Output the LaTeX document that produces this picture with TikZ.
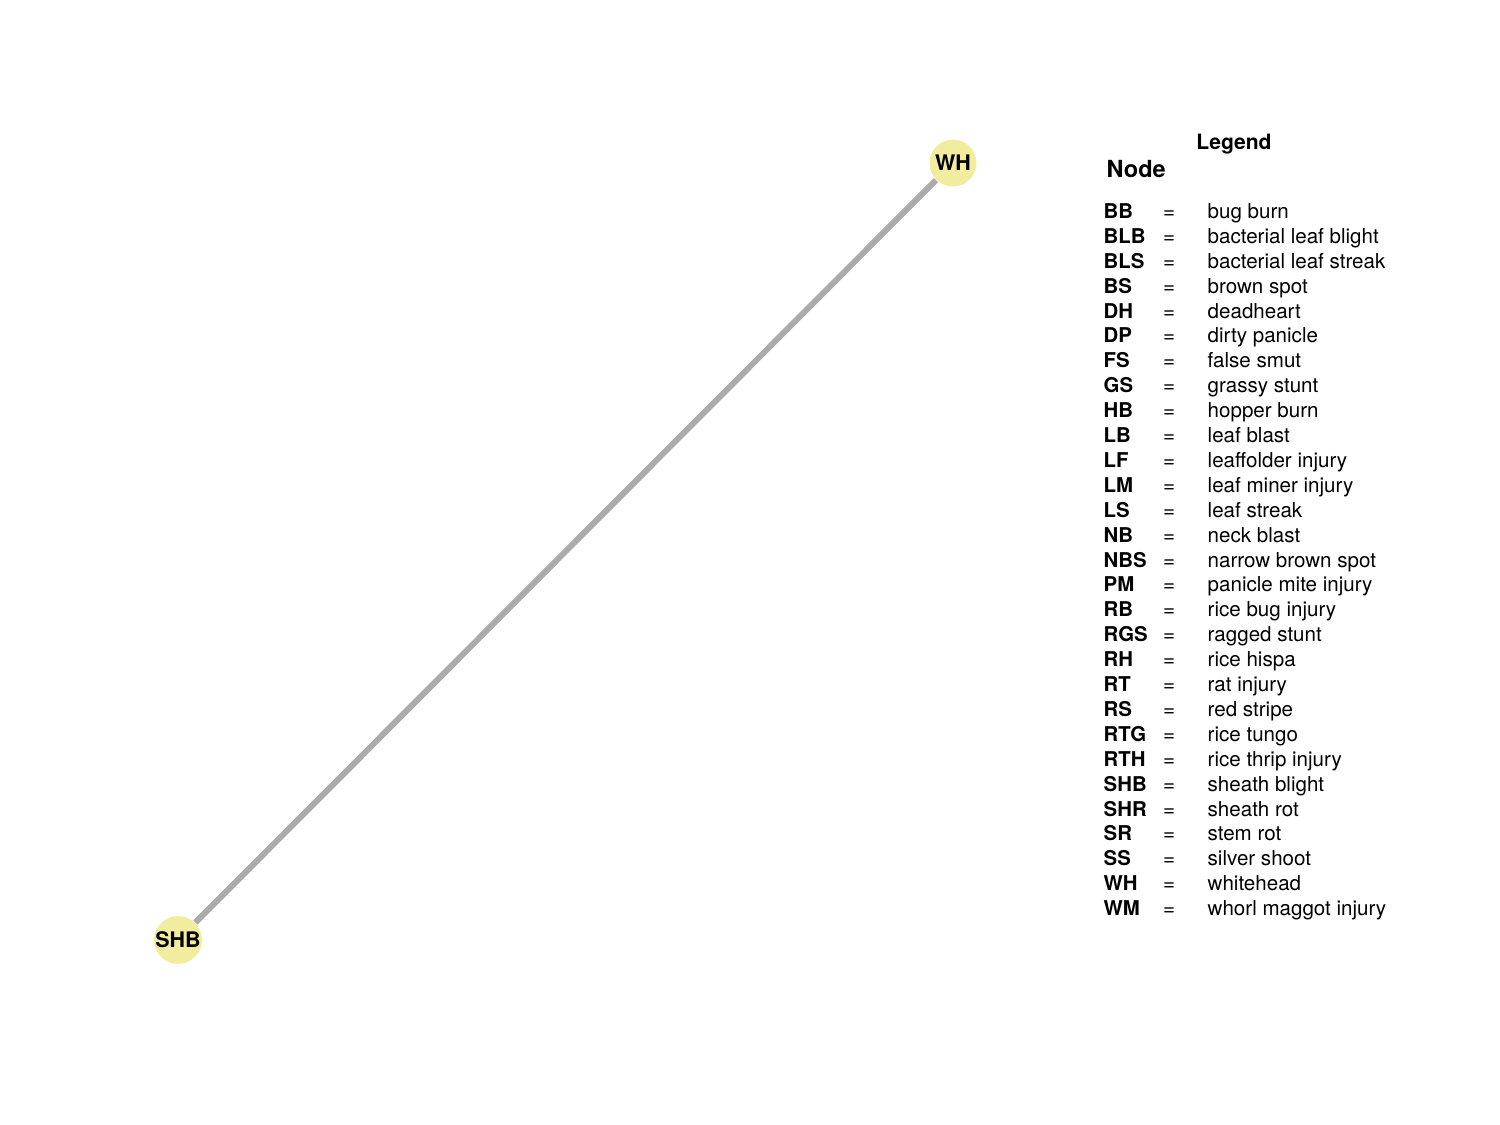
\documentclass[tikz,border=0pt]{standalone}
\usepackage{fontspec}
\setmainfont{TeX Gyre Heros}
\usepackage{xcolor}
\definecolor{vertexfill}{HTML}{F2EC9E}
\definecolor{edgegray}{HTML}{ABABAB}
\newcommand{\legsize}{\fontsize{5.85}{7}\selectfont}
\begin{document}
\begin{tikzpicture}[
  x=1cm,
  y=1cm,
  every node/.style={font=\legsize, black},
  vertex/.style={circle, fill=vertexfill, inner sep=0pt, minimum size=0.47cm,
                 font=\fontsize{6.1}{7}\selectfont\bfseries},
  edgeline/.style={edgegray, line width=1.7pt},
  legendhead/.style={font=\fontsize{6}{7}\selectfont\bfseries, inner sep=0pt, anchor=base},
  nodehead/.style={font=\fontsize{6.7}{7.5}\selectfont\bfseries, inner sep=0pt, anchor=base west},
  abbrev/.style={font=\fontsize{5.8}{7}\selectfont\bfseries, inner sep=0pt, anchor=base west},
  eqsign/.style={inner sep=0pt, anchor=base},
  descr/.style={inner sep=0pt, anchor=base west}
]
  \useasboundingbox (0,0) rectangle (15,11.25);

  % ---- network ----
  \node[vertex] (WH)  at (9.53,9.62) {WH};
  \node[vertex] (SHB) at (1.78,1.85) {SHB};
  \draw[edgeline] (SHB) -- (WH);

  % ---- legend headings ----
  \node[legendhead] (legend) at (12.34,9.75) {Legend};
  \node[nodehead]   (nodes)  at (11.06,9.47) {Node};

  % ---- legend rows ----
  \foreach \ab/\ds [count=\i] in {
      BB/bug burn, BLB/bacterial leaf blight, BLS/bacterial leaf streak,
      BS/brown spot, DH/deadheart, DP/dirty panicle, FS/false smut,
      GS/grassy stunt, HB/hopper burn, LB/leaf blast, LF/leaffolder injury,
      LM/leaf miner injury, LS/leaf streak, NB/neck blast,
      NBS/narrow brown spot, PM/panicle mite injury, RB/rice bug injury,
      RGS/ragged stunt, RH/rice hispa, RT/rat injury, RS/red stripe,
      RTG/rice tungo, RTH/rice thrip injury, SHB/sheath blight,
      SHR/sheath rot, SR/stem rot, SS/silver shoot, WH/whitehead,
      WM/whorl maggot injury}
  {
    \pgfmathsetmacro{\yrow}{9.065-(\i-1)*0.249}
    \node[abbrev] (ab-\i) at (11.03,\yrow) {\ab};
    \node[eqsign] (eq-\i) at (11.69,\yrow) {=};
    \node[descr]  (ds-\i) at (12.07,\yrow) {\ds};
  }
\end{tikzpicture}
\end{document}
